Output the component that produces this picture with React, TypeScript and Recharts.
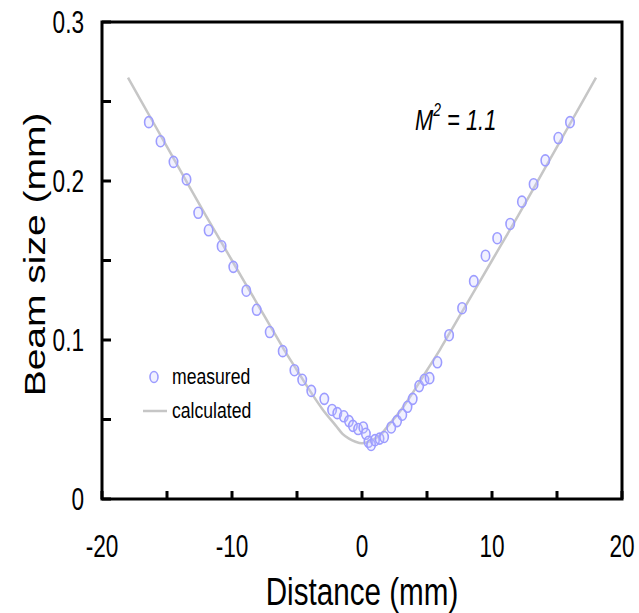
import {
  ComposedChart,
  Line,
  Scatter,
  XAxis,
  YAxis,
  Legend,
} from "recharts";

// calculated beam caustic
const calcDistance = [
  -18, -16, -14, -12, -10, -8, -7, -6, -5, -4, -3, -2, -1.5, -1, -0.5, 0,
  0.5, 1, 1.5, 2, 3, 4, 5, 6, 7, 8, 10, 12, 14, 16, 18,
];
const calcSize = [
  0.265, 0.236, 0.207, 0.178, 0.15, 0.122, 0.108, 0.094, 0.081, 0.068, 0.056,
  0.046, 0.041, 0.038, 0.036, 0.035, 0.036, 0.038, 0.041, 0.046, 0.056, 0.068,
  0.081, 0.094, 0.108, 0.122, 0.15, 0.178, 0.207, 0.236, 0.265,
];

// measured points
const measDistance = [
  -16.4, -15.5, -14.5, -13.5, -12.6, -11.8, -10.8, -9.9, -8.9, -8.1, -7.1,
  -6.1, -5.2, -4.6, -3.9, -2.9, -2.3, -1.9, -1.4, -1.0, -0.7, -0.3, 0.1, 0.3,
  0.5, 0.7, 1.0, 1.35, 1.7, 2.25, 2.7, 3.1, 3.5, 3.9, 4.4, 4.8, 5.2, 5.8, 6.7,
  7.7, 8.6, 9.5, 10.4, 11.4, 12.3, 13.2, 14.1, 15.1, 16.0,
];
const measSize = [
  0.237, 0.225, 0.212, 0.201, 0.18, 0.169, 0.159, 0.146, 0.131, 0.119, 0.105,
  0.093, 0.081, 0.075, 0.068, 0.063, 0.056, 0.054, 0.052, 0.049, 0.046, 0.044,
  0.045, 0.041, 0.036, 0.034, 0.037, 0.038, 0.039, 0.045, 0.049, 0.053, 0.058,
  0.063, 0.071, 0.075, 0.076, 0.086, 0.103, 0.12, 0.137, 0.153, 0.164, 0.173,
  0.187, 0.198, 0.213, 0.227, 0.237,
];

const xTicks = [-20, -15, -10, -5, 0, 5, 10, 15, 20];
const yTicks = [0, 0.05, 0.1, 0.15, 0.2, 0.25, 0.3];

const calcData = calcDistance.map((x, i) => ({ x, y: calcSize[i] }));
const measData = measDistance.map((x, i) => ({ x, y: measSize[i] }));

const W = 639;
const H = 613;
// plot box insets
const TOP = 22;
const RIGHT = 17;
const LEFT_AXIS = 102;
const BOTTOM_AXIS = 114;

const FONT = "'Liberation Sans', Arial, sans-serif";
const SQUEEZE = 0.73; // the original text is narrow
const RING = "#9c9cff";
const GREY = "#c6c6c6";

function XTick({ x, y, payload }: any) {
  const v = payload.value;
  return (
    <g>
      <line x1={x} x2={x} y1={y} y2={y - 8} stroke="#000" strokeWidth={3} />
      {v % 10 === 0 && (
        <text
          transform={`translate(${x},${y + 58}) scale(${SQUEEZE},1)`}
          textAnchor="middle"
          fontSize={31}
          fontFamily={FONT}
          fill="#000"
        >
          {v}
        </text>
      )}
    </g>
  );
}

function YTick({ x, y, payload }: any) {
  const v = payload.value;
  const labelled = Math.abs(v * 10 - Math.round(v * 10)) < 1e-9;
  return (
    <g>
      <line x1={x} x2={x + 9} y1={y} y2={y} stroke="#000" strokeWidth={3} />
      {labelled && (
        <text
          transform={`translate(${x - 18},${y}) scale(${SQUEEZE},1)`}
          textAnchor="end"
          dy="0.36em"
          fontSize={31}
          fontFamily={FONT}
          fill="#000"
        >
          {Math.round(v * 10) / 10}
        </text>
      )}
    </g>
  );
}

function Ring({ cx, cy }: any) {
  return (
    <ellipse
      cx={cx}
      cy={cy}
      rx={4.2}
      ry={5.5}
      fill="rgba(200,200,255,0.25)"
      stroke={RING}
      strokeWidth={1.6}
    />
  );
}

function LegendBox({ payload }: any) {
  const items = [...(payload || [])].sort(
    (a: any, b: any) => (a.type === "line" ? 1 : 0) - (b.type === "line" ? 1 : 0)
  );
  return (
    <div style={{ display: "flex", flexDirection: "column" }}>
      {items.map((e: any) => (
        <div
          key={e.value}
          style={{ display: "flex", alignItems: "center", height: 34 }}
        >
          <svg width={32} height={20}>
            {e.type === "line" ? (
              <line x1={3} x2={27} y1={10} y2={10} stroke={GREY} strokeWidth={2.5} />
            ) : (
              <ellipse cx={14} cy={10} rx={4} ry={5.5} fill="rgba(200,200,255,0.25)" stroke={RING} strokeWidth={1.6} />
            )}
          </svg>
          <span
            style={{
              fontFamily: FONT,
              fontSize: 22,
              color: "#000",
              display: "inline-block",
              transform: "scaleX(0.8)",
              transformOrigin: "left center",
              whiteSpace: "nowrap",
            }}
          >
            {e.value}
          </span>
        </div>
      ))}
    </div>
  );
}

const xTitle = (p: any) => {
  const vb = p.viewBox;
  return (
    <text
      transform={`translate(${vb.x + vb.width / 2},${vb.y + 106}) scale(0.76,1)`}
      textAnchor="middle"
      fontSize={39}
      fontFamily={FONT}
      fill="#000"
    >
      Distance (mm)
    </text>
  );
};

const yTitle = (p: any) => {
  const vb = p.viewBox;
  return (
    <text
      transform={`translate(45,${vb.y + vb.height / 2 - 6}) scale(0.76,1) rotate(-90)`}
      textAnchor="middle"
      fontSize={39}
      fontFamily={FONT}
      fill="#000"
    >
      Beam size (mm)
    </text>
  );
};

export default function App() {
  return (
    <div style={{ position: "absolute", left: 0, top: 0, width: W, height: H, background: "#fff" }}>
      <ComposedChart
        width={W}
        height={H}
        margin={{ top: TOP, right: RIGHT, bottom: 0, left: 0 }}
      >
        <XAxis
          type="number"
          dataKey="x"
          domain={[-20, 20]}
          ticks={xTicks}
          interval={0}
          allowDataOverflow
          height={BOTTOM_AXIS}
          axisLine={false}
          tickLine={false}
          tickSize={0}
          tickMargin={0}
          tick={<XTick />}
          label={xTitle}
        />
        <YAxis
          type="number"
          dataKey="y"
          domain={[0, 0.3]}
          ticks={yTicks}
          interval={0}
          allowDataOverflow
          width={LEFT_AXIS}
          axisLine={false}
          tickLine={false}
          tickSize={0}
          tickMargin={0}
          tick={<YTick />}
          label={yTitle}
        />
        <Line
          data={calcData}
          dataKey="y"
          name="calculated"
          type="monotone"
          stroke={GREY}
          strokeWidth={2.5}
          dot={false}
          legendType="line"
          isAnimationActive={false}
        />
        <Scatter
          data={measData}
          dataKey="y"
          name="measured"
          fill={RING}
          shape={<Ring />}
          legendType="circle"
          isAnimationActive={false}
        />
        <Legend
          layout="vertical"
          align="center"
          verticalAlign="middle"
          content={<LegendBox />}
          wrapperStyle={{ left: 140, top: 360, width: "auto" }}
        />
      </ComposedChart>
      <svg
        width={W}
        height={H}
        style={{ position: "absolute", left: 0, top: 0, pointerEvents: "none" }}
      >
        {/* plot frame, same box as the chart's plot area */}
        <rect
          x={LEFT_AXIS}
          y={TOP}
          width={W - LEFT_AXIS - RIGHT}
          height={H - TOP - BOTTOM_AXIS}
          fill="none"
          stroke="#000"
          strokeWidth={3}
        />
        <text
          transform={`translate(415,130) scale(${SQUEEZE},1)`}
          fontSize={30}
          fontStyle="italic"
          fontFamily={FONT}
          fill="#000"
        >
          M
          <tspan dy={-14} fontSize={19}>2</tspan>
          <tspan dy={14} fontSize={30}>{" = 1.1"}</tspan>
        </text>
      </svg>
    </div>
  );
}
